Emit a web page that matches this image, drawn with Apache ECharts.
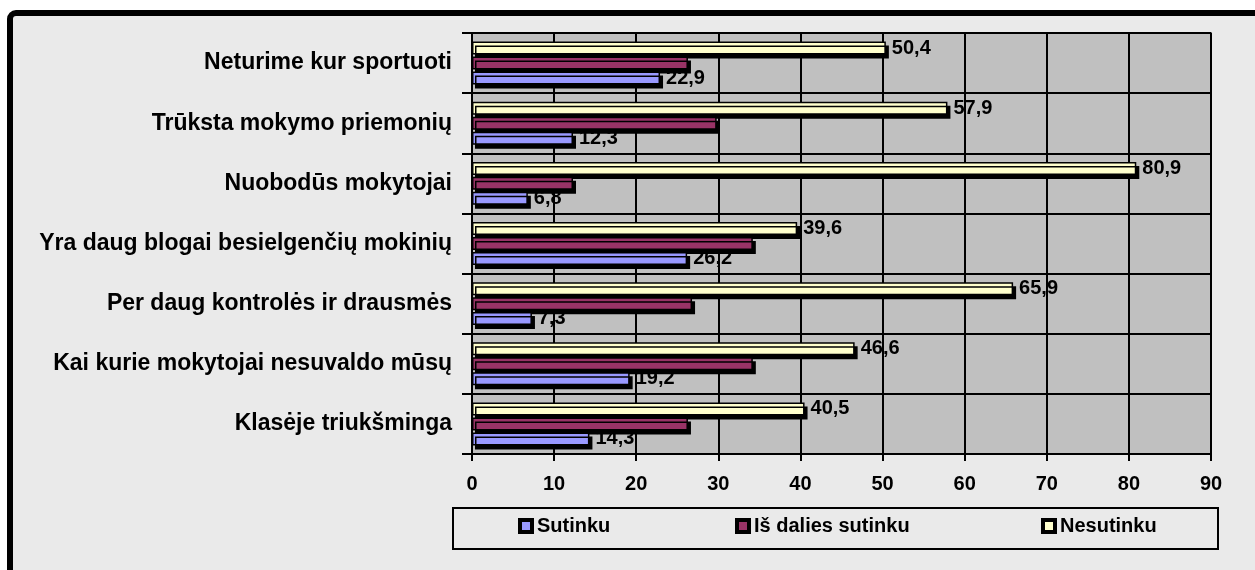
<!DOCTYPE html>
<html>
<head>
<meta charset="utf-8">
<script src="https://cdn.jsdelivr.net/npm/echarts@6/dist/echarts.min.js"></script>
<style>
html,body{margin:0;padding:0;background:#fff;}
#c{width:1255px;height:570px;}
</style>
</head>
<body>
<div id="c"></div>
<script>
// Categories listed bottom-to-top (ECharts category y axis starts at the bottom)
const categories = [
  'Klasėje triukšminga',
  'Kai kurie mokytojai nesuvaldo mūsų',
  'Per daug kontrolės ir drausmės',
  'Yra daug blogai besielgenčių mokinių',
  'Nuobodūs mokytojai',
  'Trūksta mokymo priemonių',
  'Neturime kur sportuoti'
];
const sutinku = [14.3, 19.2, 7.3, 26.2, 6.8, 12.3, 22.9];
const isDaliesSutinku = [26.3, 34.2, 26.8, 34.2, 12.3, 29.8, 26.3];
const nesutinku = [40.5, 46.6, 65.9, 39.6, 80.9, 57.9, 50.4];
const seriesNames = ['Sutinku', 'Iš dalies sutinku', 'Nesutinku'];
const seriesColors = ['#9999FF', '#993366', '#FFFFCC'];
const xTicks = { min: 0, max: 90, interval: 10 };

const FONT = '"Liberation Sans", Arial, sans-serif';
const chart = echarts.init(document.getElementById('c'));

const fmt = p => p.value.toFixed(1).replace('.', ',');
function barSeries(name, data, color, showLabel) {
  return {
    name: name,
    type: 'bar',
    data: data,
    barWidth: 13,
    barGap: '15%',
    itemStyle: {
      color: color,
      borderColor: '#000',
      borderWidth: 1.5,
      shadowColor: '#000',
      shadowOffsetX: 3,
      shadowOffsetY: 4,
      shadowBlur: 0
    },
    label: {
      show: showLabel,
      position: 'right',
      distance: 6,
      formatter: fmt,
      color: '#000',
      fontWeight: 'bold',
      fontSize: 20,
      fontFamily: FONT
    },
    emphasis: { disabled: true },
    animation: false
  };
}

function legendAt(name, left) {
  return {
    data: [name],
    left: left,
    top: 516,
    padding: 0,
    icon: 'rect',
    itemWidth: 12,
    itemHeight: 12,
    itemGap: 0,
    itemStyle: { borderColor: '#000', borderWidth: 4 },
    textStyle: { color: '#000', fontWeight: 'bold', fontSize: 20, fontFamily: FONT },
    selectedMode: false
  };
}

chart.setOption({
  animation: false,
  backgroundColor: '#ffffff',
  graphic: [
    {
      type: 'rect', z: -10, silent: true,
      shape: { x: 10, y: 13, width: 1400, height: 1000, r: 6 },
      style: { fill: '#EAEAEA', stroke: '#000', lineWidth: 6 }
    },
    {
      type: 'rect', z: -5, silent: true,
      shape: { x: 453, y: 508, width: 765, height: 41 },
      style: { fill: 'transparent', stroke: '#000', lineWidth: 2 }
    }
  ],
  grid: {
    left: 472, right: 44, top: 33, bottom: 116,
    show: true, backgroundColor: '#C0C0C0', borderColor: '#808080', borderWidth: 2,
    containLabel: false
  },
  legend: [
    legendAt(seriesNames[0], 518),
    legendAt(seriesNames[1], 735),
    legendAt(seriesNames[2], 1041)
  ],
  xAxis: {
    type: 'value',
    min: xTicks.min, max: xTicks.max, interval: xTicks.interval,
    axisLine: { show: true, lineStyle: { color: '#000', width: 2 } },
    axisTick: { show: true, length: 7, lineStyle: { color: '#000', width: 2 } },
    axisLabel: {
      margin: 20, color: '#000', fontWeight: 'bold', fontSize: 20, fontFamily: FONT,
      formatter: v => String(v)
    },
    splitLine: { show: true, lineStyle: { color: '#000', width: 2 } }
  },
  yAxis: {
    type: 'category',
    data: categories,
    axisLine: { show: true, lineStyle: { color: '#000', width: 2 } },
    axisTick: { show: true, length: 10, lineStyle: { color: '#000', width: 2 } },
    axisLabel: {
      margin: 20, color: '#000', fontWeight: 'bold', fontSize: 23, fontFamily: FONT
    },
    splitLine: { show: true, lineStyle: { color: '#000', width: 2 } }
  },
  // Series order reversed so that Sutinku sits lowest within each band (as in the reference)
  series: [
    barSeries(seriesNames[2], nesutinku, seriesColors[2], true),
    barSeries(seriesNames[1], isDaliesSutinku, seriesColors[1], false),
    barSeries(seriesNames[0], sutinku, seriesColors[0], true)
  ]
});
</script>
</body>
</html>
